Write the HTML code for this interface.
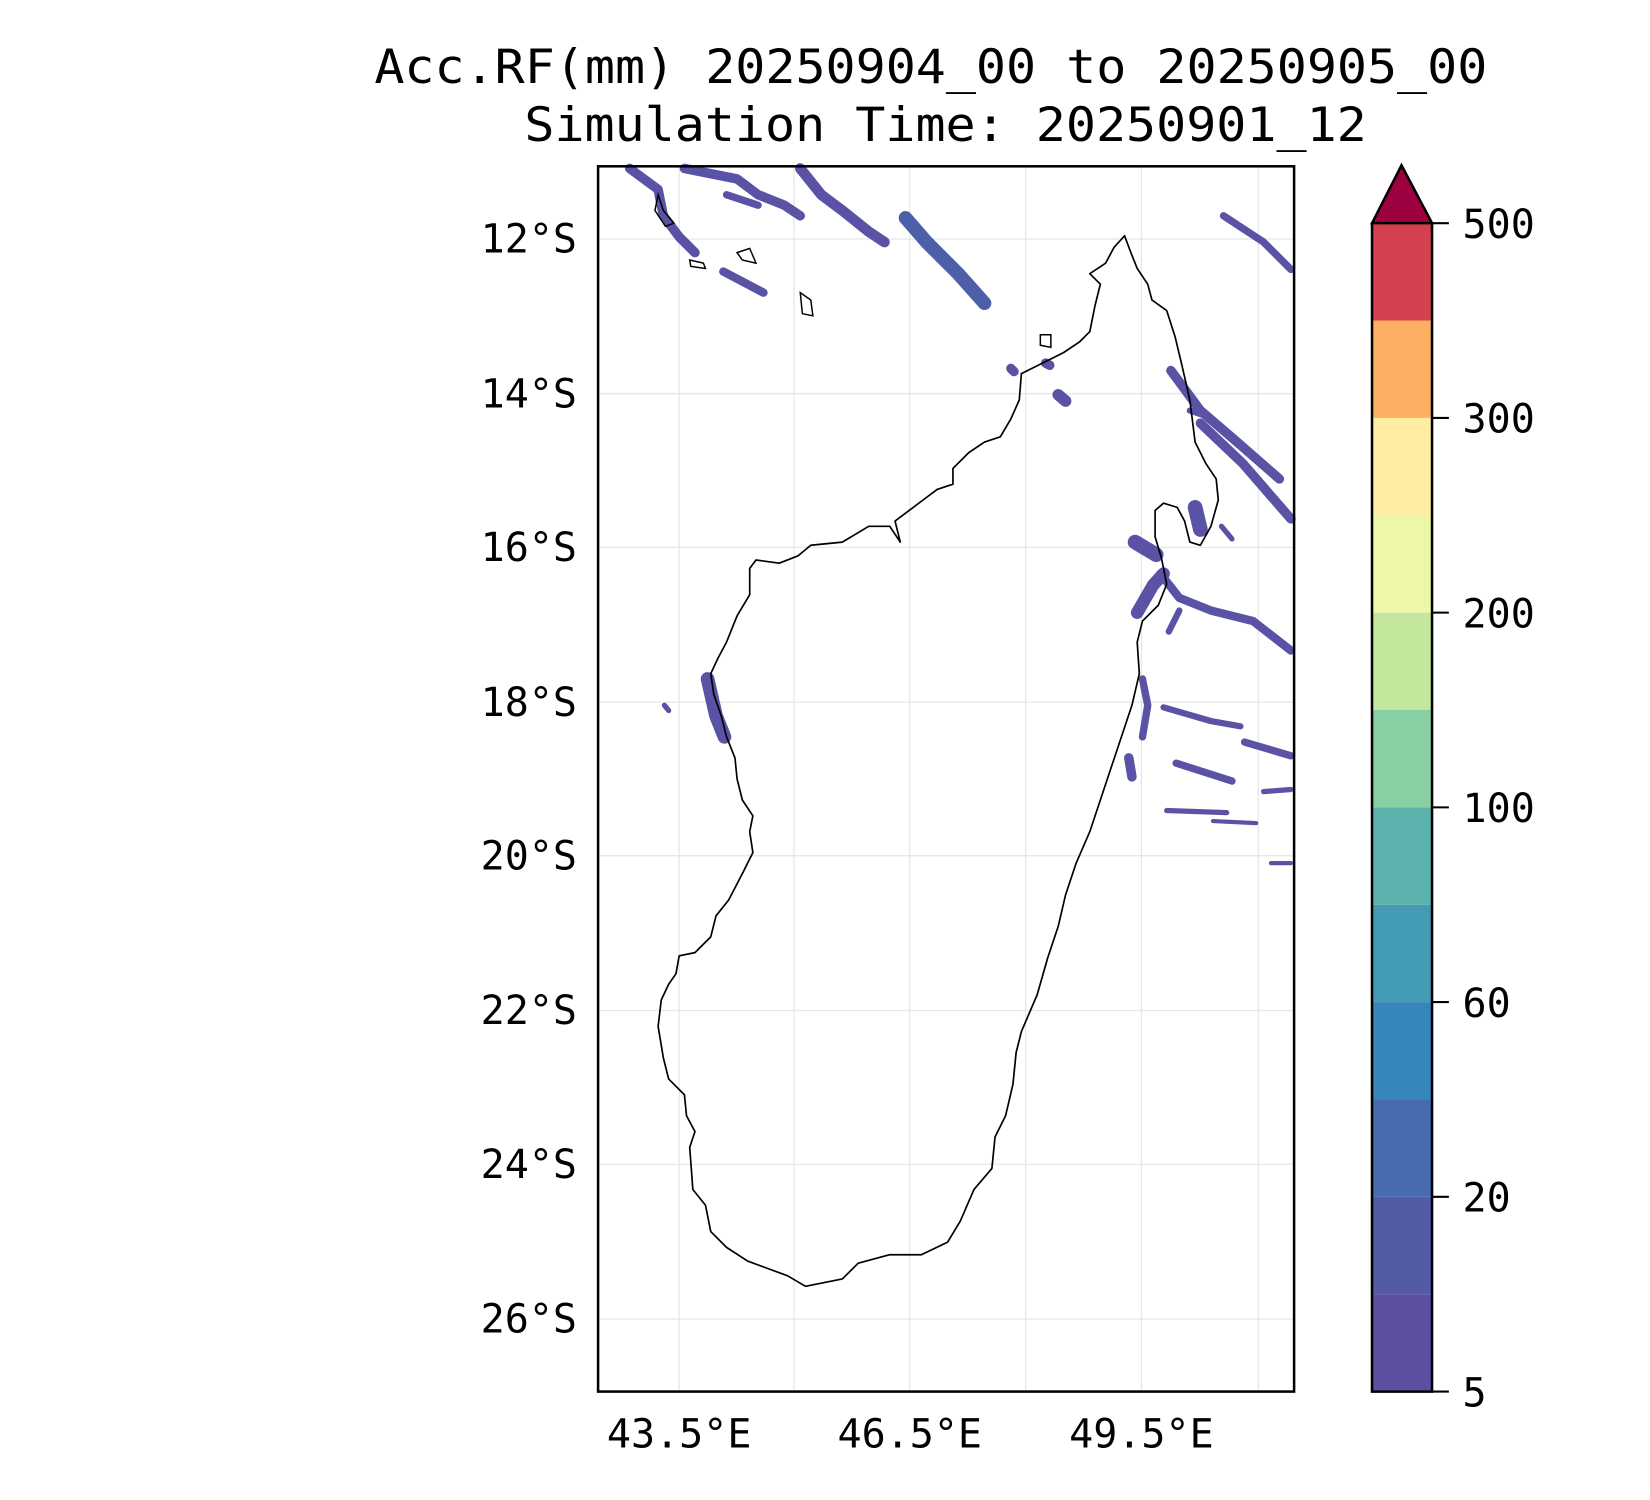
<!DOCTYPE html>
<html><head><meta charset="utf-8"><style>html,body{margin:0;padding:0;background:#fff}svg{display:block}</style></head>
<body>
<svg width="1650" height="1500" viewBox="0 0 1567 1425" preserveAspectRatio="none" xmlns="http://www.w3.org/2000/svg" font-family="'DejaVu Sans Mono','Liberation Mono',monospace">
<rect width="1567" height="1425" fill="#fff"/>
<text x="884" y="79" font-size="45" text-anchor="middle" textLength="1057" lengthAdjust="spacingAndGlyphs">Acc.RF(mm) 20250904_00 to 20250905_00</text>
<text x="898" y="134" font-size="45" text-anchor="middle" textLength="800" lengthAdjust="spacingAndGlyphs">Simulation Time: 20250901_12</text>
<g stroke="#e6e6e6" stroke-width="1.2">
<line x1="645" y1="158" x2="645" y2="1322"/><line x1="754" y1="158" x2="754" y2="1322"/><line x1="864" y1="158" x2="864" y2="1322"/><line x1="974" y1="158" x2="974" y2="1322"/><line x1="1084" y1="158" x2="1084" y2="1322"/><line x1="1195" y1="158" x2="1195" y2="1322"/>
<line x1="568" y1="227" x2="1229" y2="227"/><line x1="568" y1="374" x2="1229" y2="374"/><line x1="568" y1="520" x2="1229" y2="520"/><line x1="568" y1="667" x2="1229" y2="667"/><line x1="568" y1="813" x2="1229" y2="813"/><line x1="568" y1="960" x2="1229" y2="960"/><line x1="568" y1="1106" x2="1229" y2="1106"/><line x1="568" y1="1253" x2="1229" y2="1253"/>
</g>
<g fill="none" stroke="#5a52a4" stroke-linecap="round" stroke-linejoin="round">
<polyline stroke-width="9" points="598,160 625,180 630,205 645,225 660,240"/>
<polyline stroke-width="9" points="650,160 700,170 720,185 745,195 760,205"/>
<polyline stroke-width="7" points="690,185 720,195"/>
<polyline stroke-width="8" points="687,258 725,278"/>
<polyline stroke-width="10" points="760,160 780,185 800,200 825,220 840,230"/>
<polyline stroke-width="13" points="860,207 880,230 910,260 935,288" stroke="#4d5fa9"/>
<polyline stroke-width="9" points="1112,352 1140,390 1175,420 1215,455"/>
<polyline stroke-width="9" points="1140,402 1180,440 1226,493"/>
<polyline stroke-width="7" points="1162,205 1200,230 1226,256"/>
<polyline stroke-width="14" points="1135,482 1140,503"/>
<polyline stroke-width="14" points="1078,515 1098,527"/>
<polyline stroke-width="8" points="1102,545 1120,568 1150,580 1190,590 1226,618"/>
<polyline stroke-width="12" points="1080,582 1095,556 1105,545"/>
<polyline stroke-width="6" points="1110,600 1120,580"/>
<polyline stroke-width="13" points="672,645 680,680 688,700"/>
<polyline stroke-width="7" points="1085,645 1090,670 1085,700"/>
<polyline stroke-width="9" points="1072,720 1075,738"/>
<polyline stroke-width="6" points="1105,672 1150,685 1178,690"/>
<polyline stroke-width="7" points="1182,705 1226,718"/>
<polyline stroke-width="7" points="1117,725 1170,742"/>
<polyline stroke-width="5" points="1108,770 1165,772"/>
<polyline stroke-width="4" points="1152,780 1193,782"/>
<polyline stroke-width="4" points="1207,820 1226,820"/>
<polyline stroke-width="5" points="1200,752 1226,750"/>
<polyline stroke-width="5" points="631,670 635,675"/>
<polyline stroke-width="9" points="960,350 963,353"/>
<polyline stroke-width="9" points="993,345 997,347"/>
<polyline stroke-width="11" points="1005,375 1012,381"/>
<polyline stroke-width="6" points="1130,390 1145,395"/>
<polyline stroke-width="5" points="1160,500 1170,512"/>
</g>
<polygon fill="none" stroke="#000" stroke-width="1.6" stroke-linejoin="round" points="1068,224 1074,240 1080,255 1090,270 1094,285 1108,295 1116,320 1122,345 1130,380 1135,420 1145,440 1155,455 1157,475 1150,500 1140,518 1130,515 1125,495 1118,482 1105,478 1097,485 1097,510 1103,530 1108,555 1100,575 1085,590 1080,610 1082,640 1075,670 1065,700 1055,730 1045,760 1035,790 1022,820 1012,850 1005,880 995,910 985,945 970,980 965,1000 962,1030 955,1060 945,1080 942,1110 925,1130 912,1160 900,1180 875,1192 845,1192 815,1200 800,1215 765,1222 748,1212 710,1198 690,1185 675,1170 670,1145 658,1130 655,1090 660,1075 652,1060 650,1040 635,1025 630,1005 625,975 628,950 635,935 642,925 645,908 660,905 675,890 680,870 692,855 705,830 715,810 712,790 715,775 705,760 700,740 698,720 690,700 685,680 678,660 675,640 682,625 690,610 700,585 712,565 712,540 718,532 740,535 758,528 770,518 800,515 825,500 845,500 855,515 850,495 870,480 890,465 905,460 905,445 920,430 935,420 950,415 960,398 968,380 970,355 990,345 1010,335 1025,325 1035,315 1040,290 1045,270 1035,260 1050,250 1058,235"/>
<g fill="none" stroke="#000" stroke-width="1.4">
<polygon points="625,185 630,200 640,212 632,215 622,200"/>
<polygon points="655,247 668,250 670,255 656,253"/>
<polygon points="700,240 712,236 718,250 705,247"/>
<polygon points="760,278 770,285 772,300 762,298"/>
<polygon points="988,318 998,318 998,330 988,328"/>
</g>
<rect x="568" y="158" width="661" height="1164" fill="none" stroke="#000" stroke-width="2.4"/>
<g font-size="38" text-anchor="end">
<text x="548" y="240">12°S</text><text x="548" y="387">14°S</text><text x="548" y="533">16°S</text><text x="548" y="680">18°S</text><text x="548" y="826">20°S</text><text x="548" y="973">22°S</text><text x="548" y="1119">24°S</text><text x="548" y="1266">26°S</text>
</g>
<g font-size="38" text-anchor="middle">
<text x="645" y="1375">43.5°E</text><text x="864" y="1375">46.5°E</text><text x="1084" y="1375">49.5°E</text>
</g>
<g>
<rect x="1303" y="1229.5" width="57" height="92.5" fill="#5e4fa2"/>
<rect x="1303" y="1137" width="57" height="92.5" fill="#535ba6"/>
<rect x="1303" y="1044.5" width="57" height="92.5" fill="#476bb0"/>
<rect x="1303" y="952" width="57" height="92.5" fill="#3685bc"/>
<rect x="1303" y="859.5" width="57" height="92.5" fill="#439bb4"/>
<rect x="1303" y="767" width="57" height="92.5" fill="#5cb2ad"/>
<rect x="1303" y="674.5" width="57" height="92.5" fill="#88cfa4"/>
<rect x="1303" y="582" width="57" height="92.5" fill="#c4e79e"/>
<rect x="1303" y="489.5" width="57" height="92.5" fill="#edf7a7"/>
<rect x="1303" y="397" width="57" height="92.5" fill="#feeda2"/>
<rect x="1303" y="304.5" width="57" height="92.5" fill="#fcb062"/>
<rect x="1303" y="212" width="57" height="92.5" fill="#d5404e"/>
<polygon points="1303,212 1331,157 1360,212" fill="#9e0142" stroke="#000" stroke-width="2.4" stroke-linejoin="miter"/>
<polyline points="1303,212 1303,1322 1360,1322 1360,212" fill="none" stroke="#000" stroke-width="2.4"/>
<g stroke="#000" stroke-width="2"><line x1="1360" y1="1322" x2="1376" y2="1322"/><line x1="1360" y1="1137" x2="1376" y2="1137"/><line x1="1360" y1="952" x2="1376" y2="952"/><line x1="1360" y1="767" x2="1376" y2="767"/><line x1="1360" y1="582" x2="1376" y2="582"/><line x1="1360" y1="397" x2="1376" y2="397"/><line x1="1360" y1="212" x2="1376" y2="212"/></g>
<g font-size="38">
<text x="1389" y="1336">5</text><text x="1389" y="1151">20</text><text x="1389" y="966">60</text><text x="1389" y="781">100</text><text x="1389" y="596">200</text><text x="1389" y="411">300</text><text x="1389" y="226">500</text>
</g>
</g>
</svg>
</body></html>
